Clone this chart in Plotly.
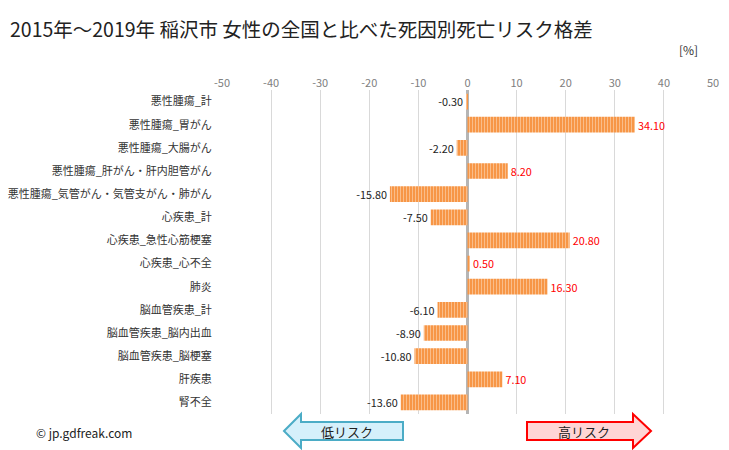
import plotly.graph_objects as go

categories = ["悪性腫瘍_計", "悪性腫瘍_胃がん", "悪性腫瘍_大腸がん", "悪性腫瘍_肝がん・肝内胆管がん",
              "悪性腫瘍_気管がん・気管支がん・肺がん", "心疾患_計", "心疾患_急性心筋梗塞", "心疾患_心不全",
              "肺炎", "脳血管疾患_計", "脳血管疾患_脳内出血", "脳血管疾患_脳梗塞", "肝疾患", "腎不全"]
values = [-0.30, 34.10, -2.20, 8.20, -15.80, -7.50, 20.80, 0.50, 16.30, -6.10, -8.90, -10.80, 7.10, -13.60]
tick_vals = [-50, -40, -30, -20, -10, 0, 10, 20, 30, 40, 50]

W, H = 729, 450
L, R, T, B = 222, 713, 90, 414
FONT = "Noto Sans CJK JP"

def px(x):
    return (x - L) / (R - L)

def py(y):
    return (B - y) / (B - T)

fig = go.Figure()
fig.add_trace(go.Bar(
    y=categories, x=values, orientation="h", width=0.68,
    marker=dict(color="#f79646", line=dict(width=0),
                pattern=dict(shape="|", fgcolor="#fde3cc", bgcolor="#f79646", size=3, solidity=0.35)),
    text=[f"{v:.2f}" for v in values],
    textposition="outside", cliponaxis=False,
    textfont=dict(family=FONT, size=11, color=["#ff0000" if v > 0 else "#222222" for v in values]),
    hoverinfo="skip",
))

fig.update_layout(
    width=W, height=H, showlegend=False,
    paper_bgcolor="white", plot_bgcolor="white",
    margin=dict(l=L, r=W - R, t=T, b=H - B, pad=0, autoexpand=False),
    font=dict(family=FONT, size=11, color="#333333"),
    xaxis=dict(range=[-50, 50], side="top", tickvals=tick_vals, ticktext=[str(v) for v in tick_vals],
               showgrid=True, gridcolor="#d9d9d9", gridwidth=1,
               zeroline=True, zerolinecolor="#b5b5b5", zerolinewidth=3, automargin=False,
               tickfont=dict(size=11, color="#808080"), ticks="", showline=False, fixedrange=True),
    yaxis=dict(autorange="reversed", tickfont=dict(size=11, color="#333333"), ticks="outside",
               ticklen=7, tickcolor="rgba(0,0,0,0)", automargin=False,
               showline=False, showgrid=False),
)

annotations = [
    dict(text="2015年～2019年 稲沢市 女性の全国と比べた死因別死亡リスク格差", x=px(8), y=py(28), xref="paper", yref="paper",
         xanchor="left", yanchor="middle", showarrow=False, font=dict(family=FONT, size=19.5, color="#222222")),
    dict(text="[%]", x=px(700), y=py(50), xref="paper", yref="paper",
         xanchor="right", yanchor="middle", showarrow=False, font=dict(family=FONT, size=12, color="#333333")),
    dict(text="© jp.gdfreak.com", x=px(34), y=py(432), xref="paper", yref="paper",
         xanchor="left", yanchor="middle", showarrow=False, font=dict(family=FONT, size=12, color="#222222")),
    dict(text="低リスク", x=px(347), y=py(431), xref="paper", yref="paper",
         xanchor="center", yanchor="middle", showarrow=False, font=dict(family=FONT, size=13, color="#222222")),
    dict(text="高リスク", x=px(584), y=py(431), xref="paper", yref="paper",
         xanchor="center", yanchor="middle", showarrow=False, font=dict(family=FONT, size=13, color="#222222")),
]
fig.update_layout(annotations=annotations)

def path(pts):
    return "M " + " L ".join(f"{px(x):.5f},{py(y):.5f}" for x, y in pts) + " Z"

left_arrow = [(284, 431), (301, 414), (301, 422), (403, 422), (403, 440), (301, 440), (301, 448)]
right_arrow = [(651, 431), (633, 414), (633, 422), (527, 422), (527, 440), (633, 440), (633, 448)]
fig.add_shape(type="path", path=path(left_arrow), xref="paper", yref="paper",
              fillcolor="#d5f0fb", line=dict(color="#4bacc6", width=2), layer="above")
fig.add_shape(type="path", path=path(right_arrow), xref="paper", yref="paper",
              fillcolor="#ffd5d5", line=dict(color="#ff0000", width=2), layer="above")

fig.write_html("out.html", config={"displayModeBar": False},
               post_script="document.body.style.margin='0';document.body.style.overflow='hidden';")
